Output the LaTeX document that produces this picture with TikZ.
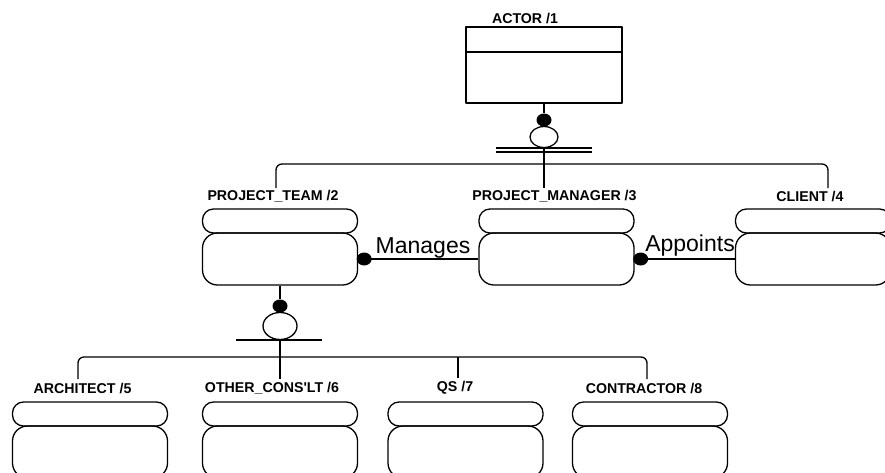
\documentclass[tikz,border=0pt]{standalone}
\usepackage{fontspec}
\setmainfont{Liberation Sans}
\usetikzlibrary{shapes.geometric}
\tikzset{
  ln/.style={line width=1.3pt, line join=round},
  lozenge/.style={ln, draw, rounded corners=11pt, minimum width=155pt, minimum height=24pt, inner sep=0pt},
  entbody/.style={ln, draw, rounded corners=15pt, minimum width=155pt, minimum height=52pt, inner sep=0pt},
  boxtop/.style={ln, draw, minimum width=156pt, minimum height=25pt, inner sep=0pt},
  boxbody/.style={ln, draw, minimum width=156pt, minimum height=51pt, inner sep=0pt},
  lbl/.style={font=\fontsize{14.2}{15}\selectfont\bfseries, inner sep=0pt},
  rel/.style={font=\fontsize{23}{24}\selectfont, inner sep=0pt},
  blob/.style={fill=black, ellipse, minimum width=15pt, minimum height=13pt, inner sep=0pt},
  ring/.style={ln, draw, fill=white, ellipse, inner sep=0pt}
}
\begin{document}
\begin{tikzpicture}[x=1pt,y=-1pt]
\useasboundingbox (0,0) rectangle (885,472);
\clip (0,0) rectangle (885,472);
\fill[white] (0,0) rectangle (885,472);

% ACTOR
\node[lbl] (actl) at (525,18) {ACTOR /1};
\node[boxtop] (actt) at (544,39.5) {};
\node[boxbody] (actb) at (544,77.5) {};

% top-level entities
\node[lbl] (ptl) at (273,196) {PROJECT\_TEAM /2};
\node[lozenge] (ptt) at (280,221) {};
\node[entbody] (ptb) at (280,259) {};

\node[lbl] (pml) at (554.5,196) {PROJECT\_MANAGER /3};
\node[lozenge] (pmt) at (556.5,221) {};
\node[entbody] (pmb) at (556.5,259) {};

\node[lbl] (cll) at (810,196) {CLIENT /4};
\node[lozenge] (clt) at (813,221) {};
\node[entbody] (clb) at (813,259) {};

% bottom entities
\node[lbl] (arl) at (82.5,388) {ARCHITECT /5};
\node[lozenge] (art) at (90,414) {};
\node[entbody] (arb) at (90,452) {};

\node[lbl] (ocl) at (272,388) {OTHER\_CONS\textquotesingle LT /6};
\node[lozenge] (oct) at (280,414) {};
\node[entbody] (ocb) at (280,452) {};

\node[lbl] (qsl) at (455,388) {QS /7};
\node[lozenge] (qst) at (465.5,414) {};
\node[entbody] (qsb) at (465.5,452) {};

\node[lbl] (col) at (644,388) {CONTRACTOR /8};
\node[lozenge] (cot) at (650,414) {};
\node[entbody] (cob) at (650,452) {};

% ACTOR subtype symbol
\node[blob] (ad) at (544,120) {};
\node[ring, minimum width=28pt, minimum height=21pt] (ac) at (544,137) {};
\coordinate (abar1l) at (496,148); \coordinate (abar1r) at (592,148);
\coordinate (abar2l) at (496,152); \coordinate (abar2r) at (592,152);
\draw[ln] (actb.south) -- (ad);
\draw[ln] (abar1l) -- (abar1r);
\draw[ln] (abar2l) -- (abar2r);
\coordinate (tj) at (544,164);
\coordinate (tA) at (276,188);
\coordinate (tB) at (544,188);
\coordinate (tC) at (828,188);
\draw[ln] (ac.south) -- (tj);
\draw[ln, rounded corners=6pt] (tA) |- (tj) -| (tC);
\draw[ln] (tj) -- (tB);

% relationships
\draw[ln] (ptb.east) -- (pmb.west);
\node[blob] (md) at ([xshift=6pt]ptb.east) {};
\node[rel, anchor=base] (mlab) at (423,253) {Manages};
\draw[ln] (pmb.east) -- (clb.west);
\node[blob] (apd) at ([xshift=6pt]pmb.east) {};
\node[rel, anchor=base] (alab) at (690,251) {Appoints};

% PROJECT_TEAM subtype symbol
\node[blob] (pd) at (280,306) {};
\node[ring, minimum width=34pt, minimum height=27pt] (pc) at (280,326) {};
\draw[ln] (ptb.south) -- (pd);
\coordinate (pbarl) at (236,340); \coordinate (pbarr) at (322,340);
\draw[ln] (pbarl) -- (pbarr);
\coordinate (bj) at (280,340);
\coordinate (bA) at (78,379);
\coordinate (bB) at (280,379);
\coordinate (bC) at (458,378);
\coordinate (bD) at (647,379);
\coordinate (bq) at (458,357);
\draw[ln] (pc.south) -- (bj) -- (bB);
\draw[ln, rounded corners=6pt] (bA) |- (bq) -| (bD);
\draw[ln] (bq) -- (bC);
\end{tikzpicture}
\end{document}
